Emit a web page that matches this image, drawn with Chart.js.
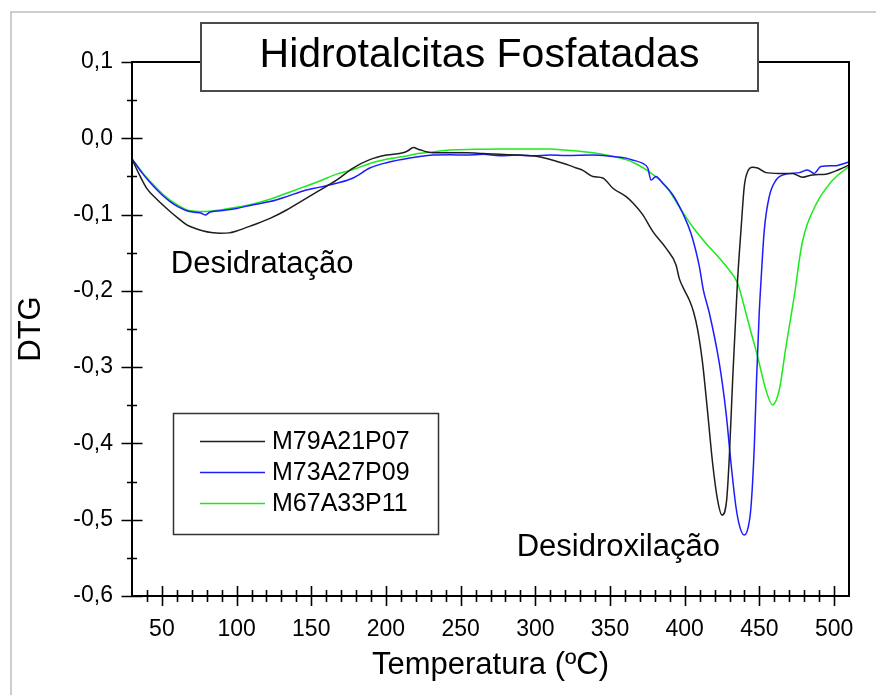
<!DOCTYPE html>
<html>
<head>
<meta charset="utf-8">
<title>Hidrotalcitas Fosfatadas - DTG</title>
<script src="https://cdn.jsdelivr.net/npm/chart.js@4.4.0/dist/chart.umd.min.js"></script>
<style>
  html, body { margin: 0; padding: 0; background: #fff; }
  #dtgChart { display: block; }
</style>
</head>
<body>
<canvas id="dtgChart" width="876" height="695"></canvas>
<script>
// DTG curves (temperature in ºC, DTG signal) for the three phosphated hydrotalcites
const seriesLabels = ['M79A21P07', 'M73A27P09', 'M67A33P11'];

const tempP07 = [30, 33, 35.5, 40, 46.6, 55.5, 61, 66.7, 72, 77.8, 83, 89, 95, 100, 111.2, 122.4, 133.5, 144.6, 155.8, 166.9,
  178, 189.2, 200.4, 211.5, 215, 218.2, 222.6, 231.5, 242.7, 253.9, 265, 276.1, 287.3, 298.4, 309.5, 316.2, 320.7, 327.4,
  331.8, 338.5, 345.2, 351.9, 360.8, 366, 371.9, 378.6, 387.5, 394.2, 396.4, 399.8, 403.1, 406, 408.7, 412, 415.4, 418.7,
  422, 425, 428.1, 429.9, 432.1, 434.3, 435.4, 437.7, 439.9, 442.1, 445.4, 448.8, 454.4, 463, 472.2, 478.9, 485.6, 494.5,
  503.4, 510];
const dtgP07 = [-0.027, -0.040, -0.050, -0.066, -0.080, -0.096, -0.105, -0.1136, -0.118, -0.1215, -0.1235, -0.1245, -0.124,
  -0.1215, -0.1136, -0.105, -0.094, -0.081, -0.068, -0.055, -0.039, -0.028, -0.022, -0.019, -0.016, -0.012, -0.015, -0.019,
  -0.019, -0.019, -0.020, -0.021, -0.022, -0.023, -0.0275, -0.0315, -0.034, -0.039, -0.042, -0.050, -0.052, -0.0655, -0.0765,
  -0.086, -0.100, -0.122, -0.144, -0.166, -0.184, -0.199, -0.212, -0.228, -0.251, -0.295, -0.360, -0.426, -0.474, -0.494,
  -0.474, -0.417, -0.317, -0.229, -0.186, -0.120, -0.063, -0.044, -0.038, -0.039, -0.045, -0.046, -0.046, -0.051, -0.048,
  -0.047, -0.041, -0.035];

const tempP09 = [30, 37, 44.4, 50, 55.5, 61, 66.7, 72, 76, 79, 82, 89, 100, 111.2, 122.4, 133.5, 144.6, 155.8, 166.9, 178,
  189.2, 200.4, 211.5, 222.6, 231.5, 242.7, 253.9, 265, 276.1, 287.3, 298.4, 309.5, 320.7, 338.5, 350, 360.8, 366, 371.9,
  375.3, 377.5, 380.8, 385.3, 392, 398.6, 404.2, 409.8, 412.5, 416.5, 423.2, 427.7, 431, 434.3, 437, 439.9, 442.5, 444.4,
  446.6, 448.1, 449.9, 451, 453.3, 456.6, 461.1, 467.8, 476.7, 482.2, 486.7, 491.2, 501.2, 505, 510];
const dtgP09 = [-0.027, -0.046, -0.063, -0.074, -0.083, -0.090, -0.095, -0.097, -0.098, -0.1005, -0.097, -0.095, -0.092,
  -0.087, -0.083, -0.0765, -0.069, -0.064, -0.059, -0.052, -0.039, -0.032, -0.0275, -0.024, -0.022, -0.0215, -0.022, -0.021,
  -0.023, -0.022, -0.023, -0.022, -0.0225, -0.022, -0.0235, -0.026, -0.029, -0.033, -0.039, -0.0547, -0.050, -0.059, -0.074,
  -0.098, -0.1245, -0.168, -0.199, -0.229, -0.295, -0.360, -0.426, -0.483, -0.510, -0.520, -0.510, -0.483, -0.404, -0.317,
  -0.229, -0.19, -0.12, -0.0765, -0.055, -0.047, -0.045, -0.0415, -0.046, -0.037, -0.036, -0.034, -0.031];

const tempP11 = [30, 37, 44.4, 50, 55.5, 61, 66.7, 72, 77.8, 89, 100, 111.2, 122.4, 133.5, 144.6, 155.8, 166.9, 178, 189.2,
  200.4, 211.5, 220, 231, 242.7, 260, 276, 293, 309.5, 320, 338.5, 350, 360.8, 368, 376.4, 387.5, 396.4, 405.3, 414.3, 423.2,
  429.9, 435.4, 441, 444.5, 448.8, 454.4, 458.8, 463.3, 467.8, 472.2, 474.5, 476.7, 478.9, 482, 485.6, 490, 494.5, 499,
  503.4, 510];
const dtgP11 = [-0.027, -0.045, -0.061, -0.072, -0.081, -0.088, -0.094, -0.0955, -0.096, -0.094, -0.0905, -0.086, -0.080,
  -0.072, -0.064, -0.056, -0.047, -0.041, -0.033, -0.0275, -0.024, -0.0206, -0.018, -0.0153, -0.0145, -0.014, -0.014, -0.014,
  -0.0155, -0.019, -0.023, -0.028, -0.034, -0.044, -0.063, -0.090, -0.116, -0.138, -0.157, -0.173, -0.190, -0.229, -0.255,
  -0.286, -0.330, -0.3495, -0.330, -0.273, -0.221, -0.192, -0.160, -0.135, -0.113, -0.096, -0.079, -0.066, -0.055, -0.047,
  -0.037];

const xTicks = [50, 100, 150, 200, 250, 300, 350, 400, 450, 500];
const yTicks = [0.1, 0.0, -0.1, -0.2, -0.3, -0.4, -0.5, -0.6];

// text placed in data coordinates: [text, temperature, DTG]
const peakNotes = [
  ['Desidratação', 56, -0.1765],
  ['Desidroxilação', 287.5, -0.5475],
];

const lineColors = ['#1e1e1e', '#1c1cff', '#1aea1a'];
const FONT = '"Liberation Sans", Arial, sans-serif';

const toPoints = (xs, ys) => xs.map((t, i) => ({ x: t, y: ys[i] }));

const allTemps = [tempP07, tempP09, tempP11];
const allDtg = [dtgP07, dtgP09, dtgP11];

const datasets = seriesLabels.map((label, i) => ({
  label,
  data: toPoints(allTemps[i], allDtg[i]),
  borderColor: lineColors[i],
  borderWidth: 1.5,
  pointRadius: 0,
  showLine: true,
  fill: false,
  cubicInterpolationMode: 'monotone',
}));

// frame, crossing ticks, boxed title, notes and legend
const decorations = {
  id: 'decorations',
  beforeDraw(chart) {
    const ctx = chart.ctx;
    ctx.save();
    ctx.fillStyle = '#fff';
    ctx.fillRect(0, 0, chart.width, chart.height);
    ctx.strokeStyle = '#b9bdc2';
    ctx.lineWidth = 1.5;
    ctx.strokeRect(11, 12, chart.width, chart.height);
    ctx.restore();
  },
  afterDraw(chart) {
    const { ctx, chartArea: a, scales: { x, y } } = chart;
    ctx.save();

    // plot frame
    ctx.strokeStyle = '#000';
    ctx.lineWidth = 2;
    ctx.strokeRect(a.left, a.top, a.right - a.left, a.bottom - a.top);

    // x ticks every 10, long ones on the labelled values
    ctx.lineWidth = 1.6;
    ctx.beginPath();
    for (let t = 40; t < 510; t += 10) {
      const px = Math.round(x.getPixelForValue(t)) + 0.5;
      const len = xTicks.includes(t) ? 10 : 6;
      ctx.moveTo(px, a.bottom - len);
      ctx.lineTo(px, a.bottom + len);
    }
    // y ticks every 0.05
    for (let k = -12; k <= 2; k++) {
      const py = Math.round(y.getPixelForValue(k * 0.05)) + 0.5;
      const len = k % 2 === 0 ? 10.5 : 5;
      ctx.moveTo(a.left - len, py);
      ctx.lineTo(a.left + (k === 2 ? 0 : len), py);
    }
    ctx.stroke();

    // title box sits on the top axis line
    ctx.fillStyle = '#fff';
    ctx.fillRect(201, 23, 557, 68);
    ctx.strokeStyle = '#4a4a4a';
    ctx.lineWidth = 2;
    ctx.strokeRect(201, 23, 557, 68);
    ctx.fillStyle = '#000';
    ctx.font = '41px ' + FONT;
    ctx.textAlign = 'center';
    ctx.textBaseline = 'alphabetic';
    ctx.fillText('Hidrotalcitas Fosfatadas', 479.5, 67);

    // notes next to the two mass-loss steps
    ctx.font = '31px ' + FONT;
    ctx.textAlign = 'left';
    peakNotes.forEach(([text, t, v]) => {
      ctx.fillText(text, x.getPixelForValue(t), y.getPixelForValue(v));
    });

    // legend
    ctx.fillStyle = '#fff';
    ctx.fillRect(173.5, 413.5, 265, 121);
    ctx.strokeStyle = '#333';
    ctx.lineWidth = 1.5;
    ctx.strokeRect(173.5, 413.5, 265, 121);
    ctx.font = '25px ' + FONT;
    ctx.textBaseline = 'middle';
    chart.data.datasets.forEach((ds, i) => {
      const ly = 441.5 + i * 31;
      ctx.strokeStyle = ds.borderColor;
      ctx.lineWidth = 1.5;
      ctx.beginPath();
      ctx.moveTo(200, ly);
      ctx.lineTo(265, ly);
      ctx.stroke();
      ctx.fillStyle = '#000';
      ctx.fillText(ds.label, 272, ly + 1);
    });

    ctx.restore();
  },
};

Chart.defaults.font.family = FONT;
Chart.defaults.color = '#000';

new Chart(document.getElementById('dtgChart'), {
  type: 'scatter',
  data: { datasets },
  options: {
    responsive: false,
    animation: false,
    devicePixelRatio: 1,
    layout: { padding: { left: 0, top: 62, right: 27, bottom: 0 } },
    plugins: {
      legend: { display: false },
      tooltip: { enabled: false },
    },
    scales: {
      x: {
        type: 'linear',
        min: 30,
        max: 510,
        afterBuildTicks: (s) => { s.ticks = xTicks.map((v) => ({ value: v })); },
        afterFit: (s) => { s.height = 99; },
        grid: { display: false, drawTicks: false },
        border: { display: false },
        ticks: {
          padding: 20,
          autoSkip: false,
          maxRotation: 0,
          font: { size: 23 },
          callback: (v) => String(v),
        },
        title: {
          display: true,
          text: 'Temperatura (ºC)',
          font: { size: 31 },
          padding: { top: 0, bottom: 11 },
        },
      },
      y: {
        type: 'linear',
        min: -0.6,
        max: 0.1,
        afterBuildTicks: (s) => { s.ticks = yTicks.map((v) => ({ value: v })); },
        afterFit: (s) => { s.width = 132; },
        grid: { display: false, drawTicks: false },
        border: { display: false },
        ticks: {
          padding: 19,
          autoSkip: false,
          font: { size: 23 },
          callback: (v) => v.toFixed(1).replace('.', ','),
        },
        title: {
          display: true,
          text: 'DTG',
          font: { size: 31 },
          padding: { top: 13, bottom: 0 },
        },
      },
    },
  },
  plugins: [decorations],
});
</script>
</body>
</html>
